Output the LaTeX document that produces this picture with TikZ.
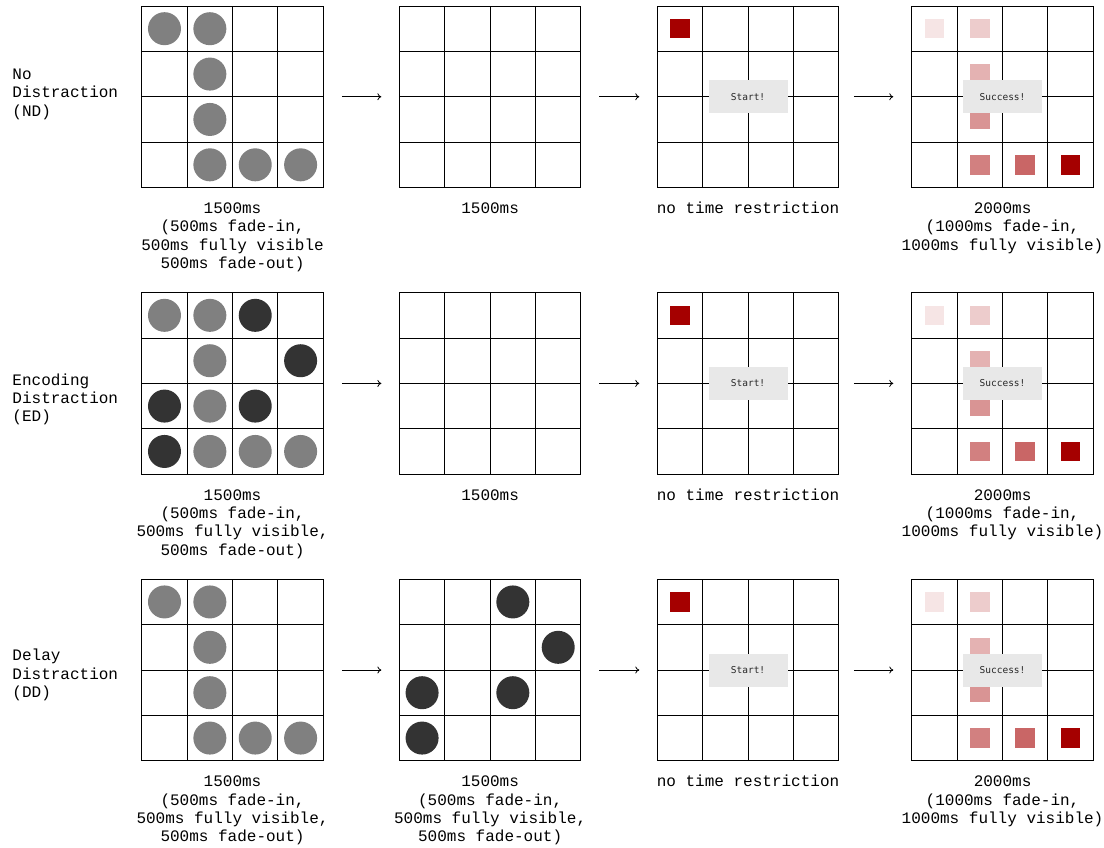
\documentclass[tikz,border=0pt]{standalone}
\usepackage{fontspec}
\setmainfont{Liberation Mono}
\newfontfamily\boxfont{DejaVu Sans Mono}
\usetikzlibrary{arrows.meta,calc}
\definecolor{dotgray}{HTML}{808080}
\definecolor{dotdark}{HTML}{333333}
\definecolor{tgtred}{HTML}{A50000}
\definecolor{boxgray}{HTML}{E8E8E8}
\tikzset{
  gridbox/.style={draw=none, minimum size=181.5pt, inner sep=0pt, outer sep=0pt},
  gridline/.style={line width=0.9pt, black, line cap=rect},
  dotg/.style={circle, fill=dotgray, minimum size=33pt, inner sep=0pt},
  dotd/.style={circle, fill=dotdark, minimum size=33pt, inner sep=0pt},
  sq/.style={fill=tgtred!#1!white, minimum size=19.5pt, inner sep=0pt},
  msgbox/.style={fill=boxgray, minimum width=79pt, minimum height=33pt, inner sep=0pt, text=black!85, font=\boxfont\fontsize{9.5}{10}\selectfont},
  caption/.style={align=center, anchor=base, inner sep=0pt, font=\fontsize{16}{18.3}\selectfont},
  cond/.style={align=left, anchor=base west, inner sep=0pt, font=\fontsize{16}{18.3}\selectfont},
  flow/.style={-{To[length=4pt,width=7pt]}, line width=0.8pt},
}
\newcommand\mkgrid[3]{%
  \node[gridbox] (#1) at (#2,#3) {};
  \foreach \k in {0,...,4}{%
    \draw[gridline] ($(#1.north west)+({\k*45.375},0)$) -- ($(#1.south west)+({\k*45.375},0)$);
    \draw[gridline] ($(#1.north west)+(0,{\k*45.375})$) -- ($(#1.north east)+(0,{\k*45.375})$);
  }}
\newcommand\putmark[4]{%
  \node[#4] (#1-#2-#3) at ($(#1.north west)+({(#3+0.5)*45.375},{(#2+0.5)*45.375})$) {};}
\begin{document}
\begin{tikzpicture}[x=1pt,y=-1pt]
\fill[white] (0,0) rectangle (1104,847);
\useasboundingbox (0,0) rectangle (1104,847);

% grids
\mkgrid{g11}{232.55}{96.75}
\mkgrid{g12}{490.15}{96.75}
\mkgrid{g13}{748.05}{96.75}
\mkgrid{g14}{1002.55}{96.75}
\mkgrid{g21}{232.55}{383.4}
\mkgrid{g22}{490.15}{383.4}
\mkgrid{g23}{748.05}{383.4}
\mkgrid{g24}{1002.55}{383.4}
\mkgrid{g31}{232.55}{670.0}
\mkgrid{g32}{490.15}{670.0}
\mkgrid{g33}{748.05}{670.0}
\mkgrid{g34}{1002.55}{670.0}

% encoding dots
\foreach \g in {g11,g21,g31}{
  \foreach \r/\c in {0/0,0/1,1/1,2/1,3/1,3/2,3/3}{\putmark{\g}{\r}{\c}{dotg}}
}
% distractor dots
\foreach \r/\c in {0/2,1/3,2/0,2/2,3/0}{\putmark{g21}{\r}{\c}{dotd}}
\foreach \r/\c in {0/2,1/3,2/0,2/2,3/0}{\putmark{g32}{\r}{\c}{dotd}}

% start grids
\foreach \g/\n in {g13/s1,g23/s2,g33/s3}{
  \putmark{\g}{0}{0}{sq=100}
  \node[msgbox] (\n) at (\g.center) {Start!};
}
% success grids
\foreach \g/\n in {g14/u1,g24/u2,g34/u3}{
  \putmark{\g}{0}{0}{sq=10}
  \putmark{\g}{0}{1}{sq=20}
  \putmark{\g}{1}{1}{sq=30}
  \putmark{\g}{2}{1}{sq=42}
  \putmark{\g}{3}{1}{sq=50}
  \putmark{\g}{3}{2}{sq=60}
  \putmark{\g}{3}{3}{sq=100}
  \node[msgbox] (\n) at (\g.center) {Success!};
}

% arrows
\foreach \r in {1,2,3}{
  \draw[flow] ([xshift=18.5pt]g\r1.east) -- ([xshift=-18pt]g\r2.west);
  \draw[flow] ([xshift=18.5pt]g\r2.east) -- ([xshift=-18pt]g\r3.west);
  \draw[flow] ([xshift=15pt]g\r3.east) -- ([xshift=-18.5pt]g\r4.west);
}

% condition labels (anchor = baseline of last line)
\node[cond] (l1) at (12.3,116.0) {No\\Distraction\\(ND)};
\node[cond] (l2) at (12.3,421.6) {Encoding\\Distraction\\(ED)};
\node[cond] (l3) at (12.3,697.3) {Delay\\Distraction\\(DD)};

% captions (anchor = baseline of last line)
\node[caption] (c11) at ([yshift=-80.9pt]g11.south) {1500ms\\(500ms fade-in,\\500ms fully visible\\500ms fade-out)};
\node[caption] (c12) at ([yshift=-26pt]g12.south) {1500ms};
\node[caption] (c13) at ([yshift=-26pt]g13.south) {no time restriction};
\node[caption] (c14) at ([yshift=-62.6pt]g14.south) {2000ms\\(1000ms fade-in,\\1000ms fully visible)};

\node[caption] (c21) at ([yshift=-80.9pt]g21.south) {1500ms\\(500ms fade-in,\\500ms fully visible,\\500ms fade-out)};
\node[caption] (c22) at ([yshift=-26pt]g22.south) {1500ms};
\node[caption] (c23) at ([yshift=-26pt]g23.south) {no time restriction};
\node[caption] (c24) at ([yshift=-62.6pt]g24.south) {2000ms\\(1000ms fade-in,\\1000ms fully visible)};

\node[caption] (c31) at ([yshift=-80.9pt]g31.south) {1500ms\\(500ms fade-in,\\500ms fully visible,\\500ms fade-out)};
\node[caption] (c32) at ([yshift=-80.9pt]g32.south) {1500ms\\(500ms fade-in,\\500ms fully visible,\\500ms fade-out)};
\node[caption] (c33) at ([yshift=-26pt]g33.south) {no time restriction};
\node[caption] (c34) at ([yshift=-62.6pt]g34.south) {2000ms\\(1000ms fade-in,\\1000ms fully visible)};
\end{tikzpicture}
\end{document}
